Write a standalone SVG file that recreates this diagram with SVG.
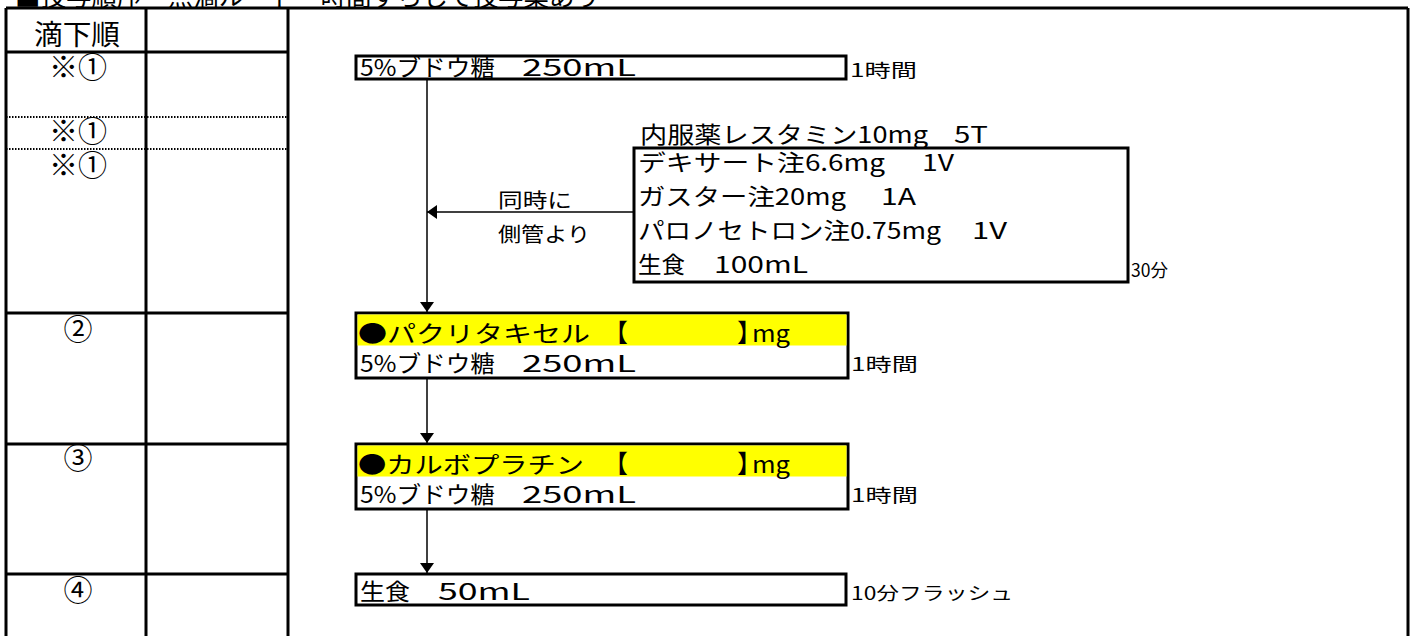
<svg xmlns="http://www.w3.org/2000/svg" width="1417" height="636" viewBox="0 0 1417 636">
<defs>
<style>
.t{font-family:"Noto Sans CJK JP","Liberation Sans",sans-serif;fill:#000}
.grid{stroke:#000;stroke-width:3;fill:none}
.dot{stroke:#000;stroke-width:2;stroke-dasharray:1.5 1.5;fill:none}
.box{stroke:#000;stroke-width:3;fill:#fff}
.conn{stroke:#000;stroke-width:1.5;fill:none}
.yel{fill:#ffff00}
</style>
<marker id="ah" viewBox="0 0 10 14" refX="10" refY="7" markerWidth="10" markerHeight="14" markerUnits="userSpaceOnUse" orient="auto">
<path d="M0,0 L10,7 L0,14 Z" fill="#000"/>
</marker>
</defs>
<rect width="1417" height="636" fill="#fff"/>
<text class="t" x="15" y="6" font-size="26" textLength="585" lengthAdjust="spacingAndGlyphs">■投与順序・点滴ルート・時間ずらして投与薬あり</text>
<g id="table">
<path class="grid" d="M6,8 H1408 M6,8 V636 M146,8 V636 M288,8 V636 M1408,8 V636 M6,52 H288 M6,313 H288 M6,444 H288 M6,574 H288"/>
<path class="dot" d="M6,117 H288 M6,149 H288"/>
<text class="t" x="77" y="45" font-size="28" text-anchor="middle" textLength="86" lengthAdjust="spacingAndGlyphs">滴下順</text>
<text class="t" x="78" y="78" font-size="29" text-anchor="middle">※①</text>
<text class="t" x="78" y="142" font-size="29" text-anchor="middle">※①</text>
<text class="t" x="78" y="176" font-size="29" text-anchor="middle">※①</text>
<text class="t" x="78" y="340" font-size="29" text-anchor="middle">②</text>
<text class="t" x="78" y="469" font-size="29" text-anchor="middle">③</text>
<text class="t" x="78" y="601" font-size="29" text-anchor="middle">④</text>
</g>
<g id="connectors">
<line class="conn" x1="427" y1="79" x2="427" y2="312" marker-end="url(#ah)"/>
<line class="conn" x1="634" y1="212" x2="427" y2="212" marker-end="url(#ah)"/>
<line class="conn" x1="427" y1="378" x2="427" y2="443" marker-end="url(#ah)"/>
<line class="conn" x1="427" y1="509" x2="427" y2="573" marker-end="url(#ah)"/>
<text class="t" x="498" y="208" font-size="20" textLength="74" lengthAdjust="spacingAndGlyphs">同時に</text>
<text class="t" x="498" y="242" font-size="20" textLength="92" lengthAdjust="spacingAndGlyphs">側管より</text>
</g>
<g id="node-glucose1">
<rect class="box" x="356" y="56" width="490" height="23"/>
<text class="t" x="360" y="76" font-size="23" textLength="135" lengthAdjust="spacingAndGlyphs">5%ブドウ糖</text>
<text class="t" x="522" y="76" font-size="23" textLength="114" lengthAdjust="spacingAndGlyphs">250mL</text>
<text class="t" x="850" y="77" font-size="18" textLength="67" lengthAdjust="spacingAndGlyphs">1時間</text>
</g>
<g id="node-premed">
<text class="t" x="640" y="143" font-size="23" textLength="288" lengthAdjust="spacingAndGlyphs">内服薬レスタミン10mg</text>
<text class="t" x="954" y="143" font-size="23" textLength="34" lengthAdjust="spacingAndGlyphs">5T</text>
<rect class="box" x="634" y="148" width="494" height="134"/>
<text class="t" x="638" y="171" font-size="23" textLength="247" lengthAdjust="spacingAndGlyphs">デキサート注6.6mg</text>
<text class="t" x="922" y="171" font-size="23" textLength="32" lengthAdjust="spacingAndGlyphs">1V</text>
<text class="t" x="638" y="205" font-size="23" textLength="208" lengthAdjust="spacingAndGlyphs">ガスター注20mg</text>
<text class="t" x="881" y="205" font-size="23" textLength="35" lengthAdjust="spacingAndGlyphs">1A</text>
<text class="t" x="638" y="239" font-size="23" textLength="303" lengthAdjust="spacingAndGlyphs">パロノセトロン注0.75mg</text>
<text class="t" x="972" y="239" font-size="23" textLength="35" lengthAdjust="spacingAndGlyphs">1V</text>
<text class="t" x="638" y="273" font-size="23" textLength="47" lengthAdjust="spacingAndGlyphs">生食</text>
<text class="t" x="714" y="273" font-size="23" textLength="94" lengthAdjust="spacingAndGlyphs">100mL</text>
<text class="t" x="1131" y="277" font-size="18" textLength="37" lengthAdjust="spacingAndGlyphs">30分</text>
</g>
<g id="node-paclitaxel">
<rect class="box" x="356" y="313" width="492" height="65"/>
<rect class="yel" x="357.5" y="314.5" width="489" height="31"/>
<text class="t" x="358" y="342" font-size="23" textLength="232" lengthAdjust="spacingAndGlyphs">●パクリタキセル</text>
<text class="t" x="603" y="342" font-size="25">【</text>
<text class="t" x="737" y="342" font-size="25">】</text>
<text class="t" x="752" y="342" font-size="23" textLength="38" lengthAdjust="spacingAndGlyphs">mg</text>
<text class="t" x="360" y="372" font-size="23" textLength="135" lengthAdjust="spacingAndGlyphs">5%ブドウ糖</text>
<text class="t" x="522" y="372" font-size="23" textLength="114" lengthAdjust="spacingAndGlyphs">250mL</text>
<text class="t" x="851" y="371" font-size="18" textLength="67" lengthAdjust="spacingAndGlyphs">1時間</text>
</g>
<g id="node-carboplatin">
<rect class="box" x="356" y="444" width="492" height="65"/>
<rect class="yel" x="357.5" y="445.5" width="489" height="31"/>
<text class="t" x="358" y="473" font-size="23" textLength="226" lengthAdjust="spacingAndGlyphs">●カルボプラチン</text>
<text class="t" x="603" y="473" font-size="25">【</text>
<text class="t" x="737" y="473" font-size="25">】</text>
<text class="t" x="752" y="473" font-size="23" textLength="38" lengthAdjust="spacingAndGlyphs">mg</text>
<text class="t" x="360" y="503" font-size="23" textLength="135" lengthAdjust="spacingAndGlyphs">5%ブドウ糖</text>
<text class="t" x="522" y="503" font-size="23" textLength="114" lengthAdjust="spacingAndGlyphs">250mL</text>
<text class="t" x="851" y="502" font-size="18" textLength="67" lengthAdjust="spacingAndGlyphs">1時間</text>
</g>
<g id="node-saline">
<rect class="box" x="356" y="574" width="490" height="31"/>
<text class="t" x="360" y="600" font-size="23" textLength="50" lengthAdjust="spacingAndGlyphs">生食</text>
<text class="t" x="438" y="600" font-size="23" textLength="92" lengthAdjust="spacingAndGlyphs">50mL</text>
<text class="t" x="851" y="600" font-size="18" textLength="162" lengthAdjust="spacingAndGlyphs">10分フラッシュ</text>
</g>
</svg>
